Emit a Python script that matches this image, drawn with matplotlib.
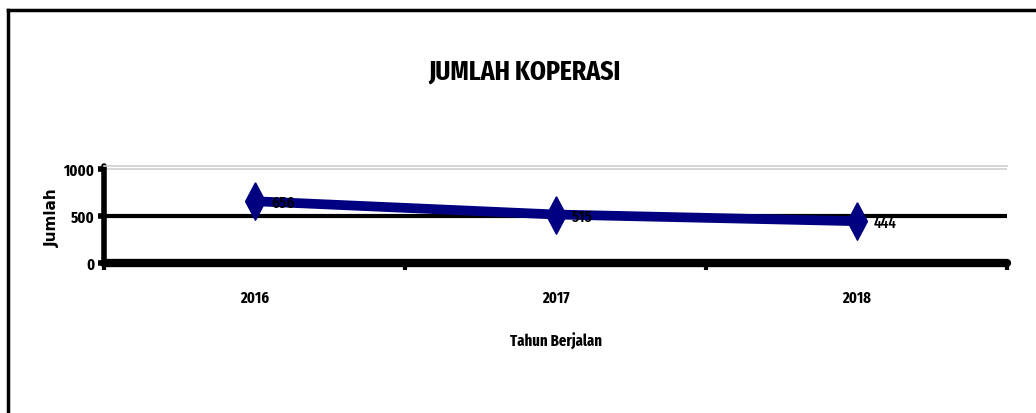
import matplotlib.pyplot as plt

tahun = ["2016", "2017", "2018"]
jumlah = [656, 515, 444]
y_ticks = [0, 500, 1000]

plt.rcParams["font.family"] = ["Fira Sans Extra Condensed", "DejaVu Sans"]
plt.rcParams["font.weight"] = "bold"

fig = plt.figure(figsize=(10.36, 4.14), dpi=100)

# bingkai luar (hanya kiri dan atas yang terlihat)
fig.add_artist(plt.Line2D([8 / 1036, 8 / 1036], [0, 1 - 11 / 414], color="black", lw=2.5,
                          transform=fig.transFigure, solid_capstyle="projecting"))
fig.add_artist(plt.Line2D([8 / 1036, 1], [1 - 11 / 414, 1 - 11 / 414], color="black", lw=2.5,
                          transform=fig.transFigure, solid_capstyle="projecting"))

ax = fig.add_axes([104 / 1036, 1 - 264 / 414, 903 / 1036, 97 / 414])
x = list(range(len(tahun)))
ax.set_xlim(-0.5, len(tahun) - 0.5)
ax.set_ylim(0, 1030)

# garis bantu
ax.axhline(1000, color="#d0d0d0", lw=1.2, zorder=1)
ax.axhline(500, color="black", lw=3, zorder=1)

ax.spines["top"].set_color("#d0d0d0")
ax.spines["top"].set_linewidth(1.2)
ax.spines["right"].set_visible(False)
ax.spines["left"].set_linewidth(4)
ax.spines["left"].set_capstyle("round")
ax.spines["bottom"].set_linewidth(6)
ax.spines["bottom"].set_capstyle("round")

diamond = [(0, 1), (0.53, 0), (0, -1), (-0.53, 0), (0, 1)]
ax.plot(x, jumlah, color="#000080", lw=7, marker=diamond, markersize=27,
        markerfacecolor="#000080", markeredgecolor="#000080", zorder=3, clip_on=False)

for xi, v in zip(x, jumlah):
    ax.annotate(str(v), (xi, v), xytext=(12, -1), textcoords="offset points",
                ha="left", va="center", fontsize=12, fontweight="medium", zorder=4)

ax.set_yticks(y_ticks)
ax.set_yticklabels([str(t) for t in y_ticks], fontsize=11.5, fontweight="bold")
ax.tick_params(axis="y", length=4, width=4, pad=3, direction="out")

ax.set_xticks([-0.5, 0.5, 1.5, 2.5])
ax.set_xticklabels([])
ax.tick_params(axis="x", length=5, width=3, direction="out")
for xi, t in zip(x, tahun):
    ax.text(xi, -0.35, t, transform=ax.get_xaxis_transform(), ha="center", va="center",
            fontsize=11.5, fontweight="bold")

ax.text(0.5, -0.8, "Tahun Berjalan", transform=ax.transAxes, ha="center", va="center",
        fontsize=11.5, fontweight="bold")
fig.text(52 / 1036, 1 - 218 / 414, "Jumlah", rotation=90, ha="center", va="center",
         fontsize=11, fontweight="bold", family="DejaVu Sans")
fig.text(525 / 1036, 1 - 72 / 414, "JUMLAH KOPERASI", ha="center", va="center",
         fontsize=20, fontweight="bold")

fig.savefig("out.png", dpi=100)
